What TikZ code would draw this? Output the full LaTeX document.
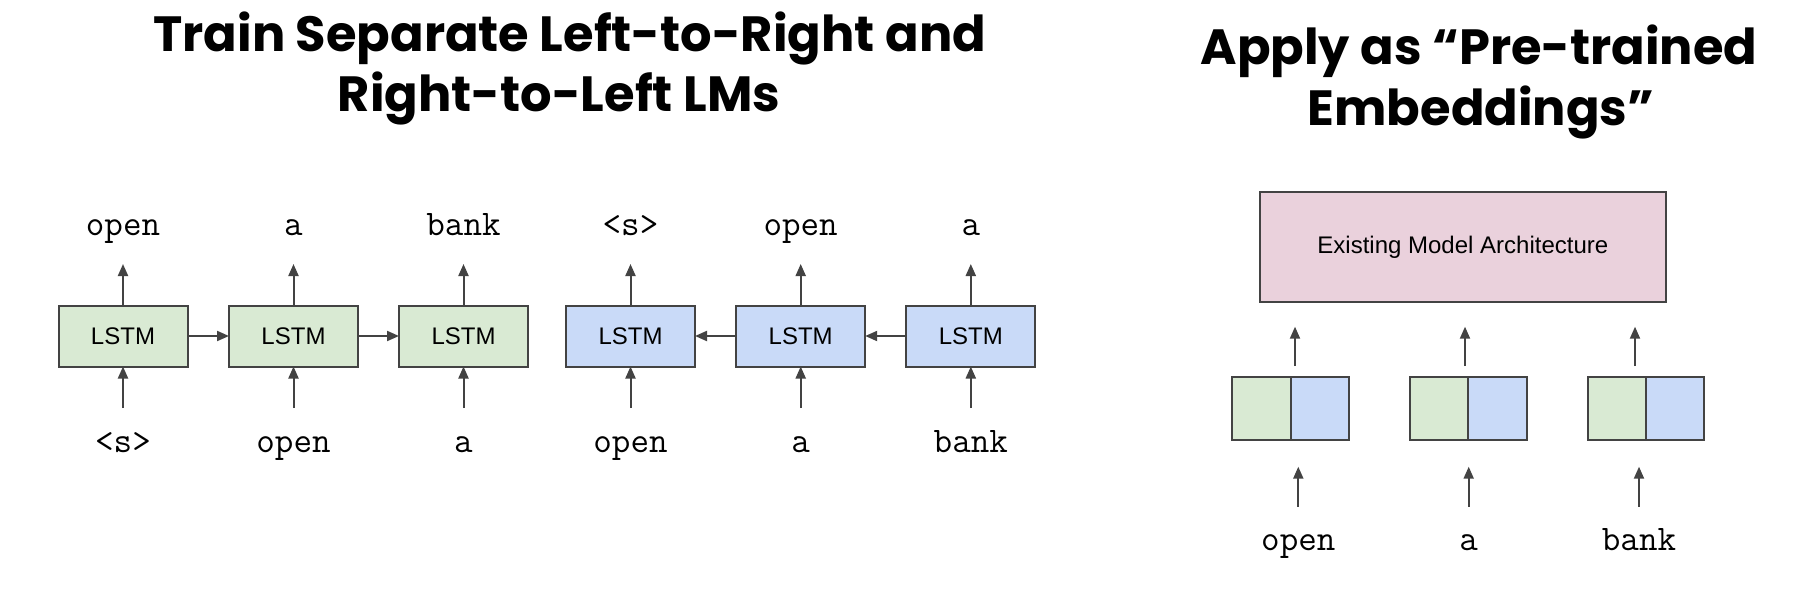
\documentclass[tikz,border=0pt]{standalone}
\usepackage{fontspec}
\setmainfont{Liberation Sans}
\newfontfamily\titlefont{Poppins}
\usetikzlibrary{arrows.meta,calc}
\definecolor{lgreen}{HTML}{D9EAD3}
\definecolor{lblue}{HTML}{C9DAF8}
\definecolor{lpink}{HTML}{EAD1DC}
\definecolor{edge}{HTML}{434343}
\begin{document}
\begin{tikzpicture}[x=1pt,y=-1pt,
  title/.style={anchor=base,inner sep=0pt,font=\titlefont\bfseries\fontsize{49.5}{60}\selectfont},
  lstm/.style={draw=edge,line width=2pt,minimum width=129pt,minimum height=61pt,inner sep=0pt,outer sep=0pt,font=\fontsize{24}{28}\selectfont},
  half/.style={draw=edge,line width=2pt,minimum width=58.4pt,minimum height=62.7pt,inner sep=0pt,outer sep=0pt},
  word/.style={anchor=base,inner sep=0pt,font=\ttfamily\fontsize{36}{40}\selectfont},
  arr/.style={draw=edge,line width=2pt,-{Triangle[length=12pt,width=10pt]}}]
\useasboundingbox[fill=white] (0,0) rectangle (1802,602);
% titles
\node[title] (t1a) at (569.7,51.7) {Train Separate Left-to-Right and};
\node[title] (t1b) at (559,111.7) {Right-to-Left LMs};
\node[title] (t2a) at (1479,65) {Apply as “Pre-trained};
\node[title] (t2b) at (1481,125) {Embeddings”};
% left-to-right LSTMs
\node[lstm,fill=lgreen] (l1) at (123,336) {LSTM};
\node[lstm,fill=lgreen] (l2) at (293.5,336) {LSTM};
\node[lstm,fill=lgreen] (l3) at (463.5,336) {LSTM};
% right-to-left LSTMs
\node[lstm,fill=lblue] (r1) at (630.5,336) {LSTM};
\node[lstm,fill=lblue] (r2) at (800.7,336) {LSTM};
\node[lstm,fill=lblue] (r3) at (970.8,336) {LSTM};
\draw[arr] (l1) -- (l2);
\draw[arr] (l2) -- (l3);
\draw[arr] (r3) -- (r2);
\draw[arr] (r2) -- (r1);
% outputs / inputs
\foreach \n/\x/\o/\i in {l1/123/open/{<s>}, l2/293.5/a/open, l3/463.5/bank/a,
                          r1/630.5/{<s>}/open, r2/800.7/open/a, r3/970.8/a/bank}{
  \coordinate (\n top) at (\x,264);
  \coordinate (\n bot) at (\x,408);
  \draw[arr] (\n.north) -- (\n top);
  \draw[arr] (\n bot) -- (\n.south);
  \node[word] (\n out) at (\x,235) {\o};
  \node[word] (\n in) at (\x,452) {\i};
}
% right panel
\node[draw=edge,line width=2pt,fill=lpink,minimum width=405.7pt,minimum height=110.3pt,inner sep=0pt,outer sep=0pt,
      font=\fontsize{24}{28}\selectfont] (arch) at (1462.85,246.85) {Existing Model Architecture};
\foreach \n/\m/\ax/\bx/\w in {e1/1290.7/1295/1298.3/open, e2/1468.3/1465/1468.7/a, e3/1646/1635/1639/bank}{
  \node[half,fill=lgreen,anchor=east] (\n g) at (\m,408.65) {};
  \node[half,fill=lblue,anchor=west] (\n b) at (\m,408.65) {};
  \coordinate (\n up1) at (\ax,366);
  \coordinate (\n up2) at (\ax,326.7);
  \draw[arr] (\n up1) -- (\n up2);
  \coordinate (\n lo1) at (\bx,506.7);
  \coordinate (\n lo2) at (\bx,466.7);
  \draw[arr] (\n lo1) -- (\n lo2);
  \node[word] (\n w) at (\bx,550) {\w};
}
\end{tikzpicture}
\end{document}
